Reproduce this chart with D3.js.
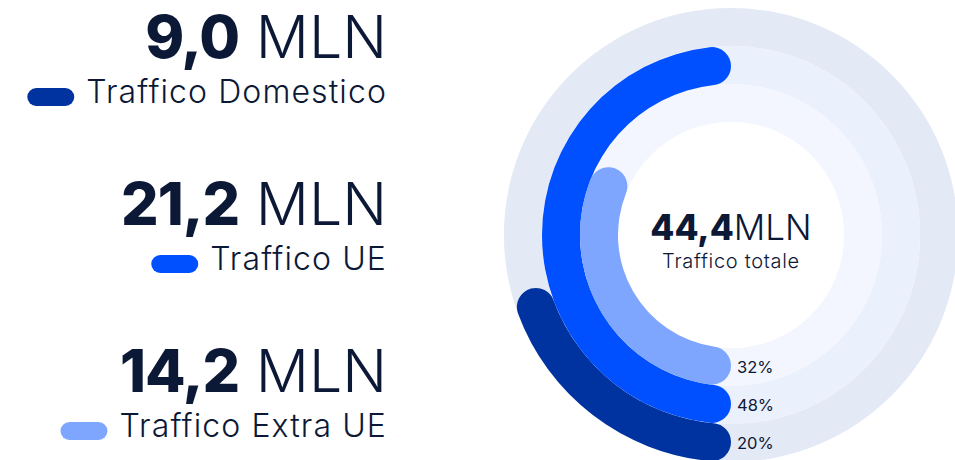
<!DOCTYPE html>
<html>
<head>
<meta charset="utf-8">
<script src="https://cdn.jsdelivr.net/npm/d3@7"></script>
<style>
	body { margin: 0; background: #fff; }
	svg { display: block; font-family: Inter, "Noto Sans", sans-serif; }
</style>
</head>
<body>
<div id="chart"></div>
<script>
(function() {

// data
const categories = ["Traffico Domestico", "Traffico UE", "Traffico Extra UE"];
const valuesMln = [9.0, 21.2, 14.2];
const shares = [20, 48, 32];
const unit = "MLN";
const totalLabel = "Traffico totale";

const colors = ["#0033a0", "#0050ff", "#7fa6ff"];
const ringColors = ["#e3e9f5", "#ebf0fd", "#f3f6fe"];
const ink = "#0b1836";

const width = 955, height = 460;
const cx = 731, cy = 235;
const rOuter = 227, rInner = 113;

const it = d3.formatLocale({decimal: ",", thousands: ".", grouping: [3], currency: ["", " €"]});
const fmt = it.format(".1f");

const data = categories.map(function(c, i) {
	return {cat: c, mln: valuesMln[i], share: shares[i]};
});

const svg = d3.select("#chart").append("svg")
	.attr("width", width)
	.attr("height", height);

const color = d3.scaleOrdinal(categories, colors);
const ringColor = d3.scaleOrdinal(categories, ringColors);

// outer category gets the outer ring
const radius = d3.scaleBand()
	.domain(categories)
	.range([rOuter, rInner]);
const bw = radius.bandwidth();

// the largest share fills half a circle
const angle = d3.scaleLinear()
	.domain([0, d3.max(shares)])
	.range([0, Math.PI]);

const g = svg.append("g").attr("transform", "translate(" + cx + "," + cy + ")");

// background rings
g.selectAll(".ring")
	.data(data)
	.enter().append("path")
	.attr("class", "ring")
	.attr("fill", d => ringColor(d.cat))
	.attr("d", d3.arc()
		.innerRadius(d => radius(d.cat))
		.outerRadius(d => radius(d.cat) + bw)
		.startAngle(0)
		.endAngle(2 * Math.PI));

g.append("circle")
	.attr("r", rInner)
	.attr("fill", "#fff");

// bars, starting at the bottom and running clockwise
const bar = d3.arc()
	.innerRadius(d => radius(d.cat))
	.outerRadius(d => radius(d.cat) + bw)
	.startAngle(Math.PI)
	.endAngle(d => Math.PI + angle(d.share))
	.cornerRadius(bw / 2);

g.selectAll(".bar")
	.data(data)
	.enter().append("path")
	.attr("class", "bar")
	.attr("fill", d => color(d.cat))
	.attr("d", bar);

// percentage labels next to the bar ends
g.selectAll(".pct")
	.data(data)
	.enter().append("text")
	.attr("class", "pct")
	.attr("x", 6)
	.attr("y", d => radius(d.cat) + bw / 2)
	.attr("dy", "0.35em")
	.attr("fill", ink)
	.attr("font-size", 16.5)
	.attr("font-weight", 400)
	.text(d => d.share + "%");

// centre total
const tot = g.append("text")
	.attr("text-anchor", "middle")
	.attr("y", 5)
	.attr("fill", ink)
	.attr("font-size", 35);
tot.append("tspan").attr("font-weight", 800).text(fmt(d3.sum(valuesMln)));
tot.append("tspan").attr("font-weight", 300).text(unit);

g.append("text")
	.attr("text-anchor", "middle")
	.attr("y", 33)
	.attr("fill", ink)
	.attr("font-size", 20)
	.attr("font-weight", 300)
	.attr("letter-spacing", 0.7)
	.text(totalLabel);

// left legend with the values
const legendRight = 387;
const rowY = d3.scalePoint()
	.domain(categories)
	.range([58, 392]);

const item = svg.selectAll(".item")
	.data(data)
	.enter().append("g")
	.attr("class", "item")
	.attr("transform", d => "translate(" + legendRight + "," + rowY(d.cat) + ")");

const big = item.append("text")
	.attr("text-anchor", "end")
	.attr("fill", ink)
	.attr("font-size", 59);
big.append("tspan").attr("font-weight", 800).attr("letter-spacing", -1).text(d => fmt(d.mln));
big.append("tspan").attr("font-weight", 300).attr("letter-spacing", 0).text(" " + unit);

item.append("text")
	.attr("class", "lbl")
	.attr("text-anchor", "end")
	.attr("y", 45)
	.attr("fill", ink)
	.attr("font-size", 32)
	.attr("font-weight", 300)
	.attr("letter-spacing", 1.1)
	.text(d => d.cat);

item.each(function(d) {
	const w = d3.select(this).select("text.lbl").node().getComputedTextLength();
	d3.select(this).append("rect")
		.attr("x", -w - 12 - 47)
		.attr("y", 45 - 15)
		.attr("width", 47)
		.attr("height", 18)
		.attr("rx", 9)
		.attr("fill", color(d.cat));
});

})();
</script>
</body>
</html>
